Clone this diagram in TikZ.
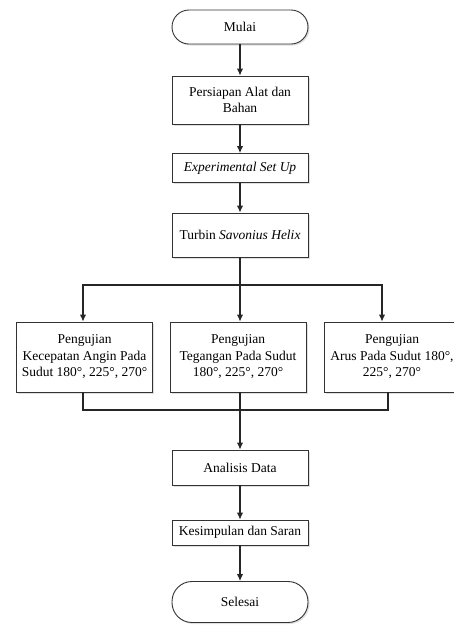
\documentclass[tikz,border=0pt]{standalone}
\usepackage{fontspec}
\setmainfont{Liberation Serif}
\usetikzlibrary{arrows.meta,shadows}

\begin{document}
\begin{tikzpicture}[x=1pt,y=-1pt,
    proses/.style={draw=black!80,fill=white,line width=0.9pt,minimum width=136pt,
        align=center,inner sep=2pt,font=\fontsize{13.5}{16.5}\selectfont,
        drop shadow={shadow xshift=1.5pt,shadow yshift=-1.5pt,opacity=0.25}},
    terminal/.style={proses,rounded corners=17pt},
    alur/.style={line width=1.2pt,draw=black!85,-{Latex[length=7pt,width=6.5pt]}},
    garis/.style={line width=1.2pt,draw=black!85}]
            \path[use as bounding box,fill=white] (0,0) rectangle (454,625);

            % kolom utama
            \node[terminal,minimum height=34pt] (mulai) at (240,27) {Mulai};
            \node[proses,minimum height=48pt] (persiapan) at (240,100) {Persiapan Alat dan\\Bahan};
            \node[proses,minimum height=29pt] (setup) at (240,168) {\textit{Experimental Set Up}};
            \node[proses,minimum height=44pt] (turbin) at (240,235) {Turbin \textit{Savonius Helix}};

            % pengujian
            \node[proses,minimum height=70pt] (uji1) at (84.5,357) {Pengujian\\Kecepatan Angin Pada\\Sudut 180°, 225°, 270°};
            \node[proses,minimum height=70pt] (uji2) at (238,357) {Pengujian\\Tegangan Pada Sudut\\180°, 225°, 270°};
            \node[proses,minimum height=70pt] (uji3) at (392,357) {Pengujian\\Arus Pada Sudut 180°,\\225°, 270°};

            \node[proses,minimum height=35pt] (analisis) at (240,467.5) {Analisis Data};
            \node[proses,minimum height=25pt] (kesimpulan) at (240,532.5) {Kesimpulan dan Saran};
            \node[terminal,minimum height=41pt,rounded corners=20pt] (selesai) at (240,602) {Selesai};

            \coordinate (cabang) at (240,285);
            \coordinate (gabung) at (240,410);

            \draw[alur] (mulai) -- (persiapan);
            \draw[alur] (persiapan) -- (setup);
            \draw[alur] (setup) -- (turbin);
            \draw[garis] (turbin.south) -- (cabang);
            \draw[alur] (cabang) -| ([xshift=-1.5pt]uji1.north);
            \draw[alur] (cabang) -- (cabang |- uji2.north);
            \draw[alur] (cabang) -| ([xshift=-10pt]uji3.north);
            \draw[garis] ([xshift=-1.5pt]uji1.south) |- (gabung) -| ([xshift=-4pt]uji3.south);
            \draw[garis] (gabung |- uji2.south) -- (gabung);
            \draw[alur] (gabung) -- (analisis);
            \draw[alur] (analisis) -- (kesimpulan);
            \draw[alur] (kesimpulan) -- (selesai);
        \end{tikzpicture}
\end{document}
